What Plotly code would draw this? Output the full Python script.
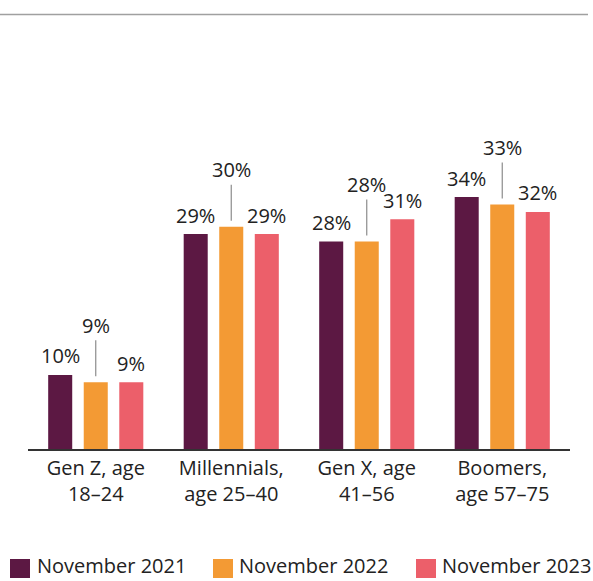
import plotly.graph_objects as go

# Data
categories = ["Gen Z, age<br>18–24", "Millennials,<br>age 25–40", "Gen X, age<br>41–56", "Boomers,<br>age 57–75"]
series_names = ["November 2021", "November 2022", "November 2023"]
nov_2021 = [10, 29, 28, 34]
nov_2022 = [9, 30, 28, 33]
nov_2023 = [9, 29, 31, 32]
series_values = [nov_2021, nov_2022, nov_2023]
colors = ["#5C1843", "#F39A34", "#EC5F6A"]

W, H = 593, 581
L, R, T, B = 28, 23, 15, 132
PW, PH = W - L - R, H - T - B
PX_PER_PCT = 7.41
FONT = "Open Sans"
TXT = "#222222"


def paper_x(px):
    return (px - L) / PW


def paper_y(py):
    return (H - B - py) / PH


fig = go.Figure()
for name, vals, col in zip(series_names, series_values, colors):
    fig.add_trace(go.Bar(
        x=categories, y=vals, name=name,
        marker=dict(color=col, line=dict(width=0)),
        showlegend=False,
    ))

# value labels: outer bars plain, middle bar lifted with a leader line
slot = 35.5
annotations = []
for i, vals in enumerate(series_values):
    for cat, v in zip(categories, vals):
        if i == 1:
            annotations.append(dict(
                x=cat, y=v, text=f"{v}%", showarrow=True, arrowhead=0,
                arrowwidth=1.2, arrowcolor="#8c8c8c", ax=0, ay=-57,
                standoff=6, font=dict(size=20, color=TXT, family=FONT),
            ))
        else:
            annotations.append(dict(
                x=cat, y=v, text=f"{v}%", showarrow=False,
                xshift=(i - 1) * slot, yshift=19, yanchor="middle",
                font=dict(size=20, color=TXT, family=FONT),
            ))

# legend drawn by hand (big square swatches)
shapes = []
legend_pos = [(10, 35), (213, 237), (416, 440)]
for (sx, tx), name, col in zip(legend_pos, series_names, colors):
    shapes.append(dict(
        type="rect", xref="paper", yref="paper",
        x0=paper_x(sx), x1=paper_x(sx + 20),
        y0=paper_y(578), y1=paper_y(559),
        fillcolor=col, line=dict(width=0),
    ))
    annotations.append(dict(
        xref="paper", yref="paper", x=paper_x(tx), y=paper_y(581),
        xanchor="left", yanchor="bottom", text=name, showarrow=False,
        font=dict(size=20, color=TXT, family=FONT),
    ))

# grey rule at the top
shapes.append(dict(
    type="line", xref="paper", yref="paper",
    x0=paper_x(0), x1=paper_x(588), y0=paper_y(14.5), y1=paper_y(14.5),
    line=dict(color="#a0a0a0", width=1.5),
))

fig.update_layout(
    width=W, height=H,
    margin=dict(l=L, r=R, t=T, b=B),
    paper_bgcolor="white", plot_bgcolor="white",
    barmode="group", bargap=0.213, bargroupgap=0.324,
    font=dict(family=FONT, color=TXT, size=20),
    xaxis=dict(
        showline=True, linecolor="#333333", linewidth=1.5,
        showgrid=False, ticks="", tickfont=dict(size=20, color=TXT),
    ),
    yaxis=dict(visible=False, range=[0, PH / PX_PER_PCT]),
    annotations=annotations,
    shapes=shapes,
)

fig.write_html("out.html", config={"displayModeBar": False},
               post_script="document.body.style.margin='0';")
